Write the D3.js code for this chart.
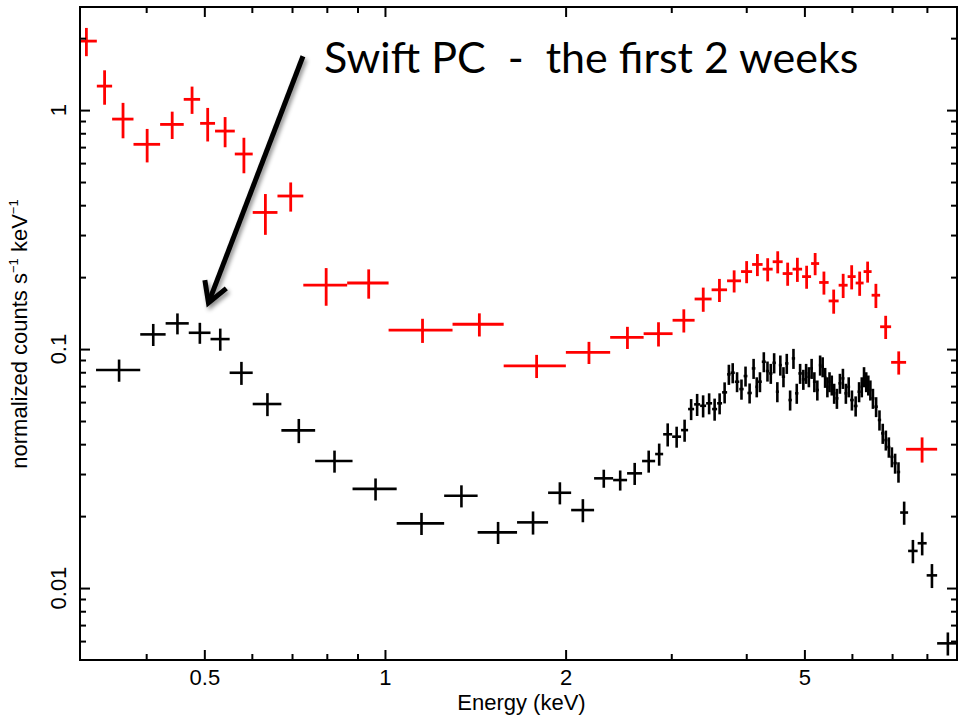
<!DOCTYPE html>
<html><head><meta charset="utf-8">
<script src="https://cdn.jsdelivr.net/npm/d3@7"></script>
<style>body{margin:0;background:#fff} svg{display:block}</style>
</head><body><svg id="c" width="960" height="720"></svg>
<script>
// ---- tick definitions ----
const xTickMajor = [0.5, 1, 2, 5];
const xTickLabels = ["0.5", "1", "2", "5"];
const xTickMinor = [0.4, 0.6, 0.7, 0.8, 0.9, 3, 4, 6, 7, 8];
const yTickMajor = [0.01, 0.1, 1];
const yTickLabels = ["0.01", "0.1", "1"];
const yTickMinor = [0.006, 0.007, 0.008, 0.009, 0.02, 0.03, 0.04, 0.05, 0.06, 0.07, 0.08, 0.09,
                    0.2, 0.3, 0.4, 0.5, 0.6, 0.7, 0.8, 0.9, 2];

// ---- red spectrum (bin edges in keV, rate, 1-sigma error) ----
const redEdges = [0.305, 0.331, 0.351, 0.381, 0.422, 0.462, 0.492, 0.521, 0.562, 0.602, 0.662,
  0.731, 0.865, 1.014, 1.296, 1.577, 2.002, 2.373, 2.698, 3.015, 3.281, 3.502, 3.716, 3.921,
  4.091, 4.259, 4.427, 4.600, 4.778, 4.956, 5.130, 5.291, 5.487, 5.702, 5.902, 6.087, 6.275,
  6.471, 6.686, 6.974, 7.387, 8.321];
const redRate = [1.944, 1.260, 0.917, 0.719, 0.871, 1.109, 0.880, 0.817, 0.655, 0.373, 0.437,
  0.185, 0.189, 0.120, 0.127, 0.0851, 0.0969, 0.112, 0.116, 0.132, 0.162, 0.177, 0.193, 0.211,
  0.226, 0.216, 0.232, 0.207, 0.216, 0.201, 0.228, 0.190, 0.159, 0.185, 0.201, 0.189, 0.211,
  0.168, 0.124, 0.088, 0.0381];
const redErr = [0.263, 0.207, 0.155, 0.115, 0.114, 0.145, 0.141, 0.118, 0.111, 0.0724, 0.061,
  0.0332, 0.0265, 0.0139, 0.0141, 0.00945, 0.0103, 0.0119, 0.0135, 0.0147, 0.0188, 0.0196,
  0.0205, 0.0224, 0.024, 0.024, 0.0246, 0.023, 0.025, 0.0222, 0.0243, 0.021, 0.0184, 0.0215,
  0.0233, 0.022, 0.0213, 0.0195, 0.0138, 0.0098, 0.0046];

// ---- black spectrum ----
const blackEdges = [0.330, 0.391, 0.431, 0.471, 0.512, 0.551, 0.602, 0.672, 0.765, 0.883,
  1.046, 1.255, 1.427, 1.660, 1.870, 2.043, 2.231, 2.400, 2.532, 2.682,
  2.820, 2.908, 3.010, 3.115, 3.200, 3.275, 3.351, 3.429, 3.509, 3.577,
  3.646, 3.717, 3.767, 3.828, 3.895, 3.960, 4.018, 4.086, 4.143, 4.186,
  4.246, 4.312, 4.367, 4.423, 4.481, 4.533, 4.585, 4.643, 4.703, 4.764,
  4.825, 4.886, 4.951, 5.008, 5.058, 5.115, 5.166, 5.224, 5.285, 5.337,
  5.389, 5.439, 5.483, 5.529, 5.578, 5.632, 5.697, 5.763, 5.830, 5.895,
  5.959, 6.042, 6.131, 6.204, 6.259, 6.312, 6.366, 6.414, 6.467, 6.541,
  6.627, 6.712, 6.795, 6.874, 6.953, 7.036, 7.128, 7.220, 7.444, 7.721,
  7.993, 8.321, 9.020];
const blackRate = [0.0817, 0.1152, 0.1281, 0.1170, 0.1101, 0.0796, 0.0589, 0.0457, 0.0340, 0.0260,
  0.01865, 0.02433, 0.0171, 0.01883, 0.02505, 0.0212, 0.02878, 0.02831, 0.0302, 0.0340,
  0.03637, 0.0440, 0.0430, 0.0458, 0.0561, 0.0587, 0.0579, 0.0593, 0.0561, 0.0593, 0.0659,
  0.0784, 0.0796, 0.0730, 0.0680, 0.0771, 0.0655, 0.0830, 0.0695, 0.0730, 0.0885,
  0.0809, 0.0791, 0.0876, 0.0663, 0.0857, 0.0766, 0.0871, 0.0612, 0.0914, 0.0653,
  0.0791, 0.0747, 0.0791, 0.0766, 0.0830, 0.0730, 0.0674, 0.0857, 0.0843, 0.0761,
  0.0695, 0.0730, 0.0707, 0.0653, 0.0622, 0.0719, 0.0754, 0.0653, 0.0695, 0.0612,
  0.0578, 0.0663, 0.0695, 0.0766, 0.0730, 0.0707, 0.0674, 0.0622, 0.0574, 0.0505,
  0.0444, 0.0416, 0.0389, 0.0354, 0.0333, 0.0306, 0.0207, 0.0143, 0.0154, 0.0113, 0.00587];
const blackErr = [0.0087, 0.0122, 0.0129, 0.0118, 0.0117, 0.0088, 0.0065, 0.0053, 0.0036, 0.00275,
  0.00198, 0.00258, 0.00181, 0.00209, 0.00266, 0.00235, 0.0025, 0.00273, 0.0032, 0.0036,
  0.00386, 0.00488, 0.00434, 0.00486, 0.00567, 0.00622, 0.00614, 0.00599, 0.00595, 0.00599, 0.00666,
  0.0076, 0.0077, 0.0070, 0.0066, 0.0074, 0.0063, 0.0080, 0.0067, 0.0070, 0.0085,
  0.0078, 0.0076, 0.0085, 0.0064, 0.0083, 0.0074, 0.0084, 0.0059, 0.0088, 0.0063,
  0.0076, 0.0072, 0.0076, 0.0074, 0.0080, 0.0070, 0.0065, 0.0083, 0.0081, 0.0073,
  0.0067, 0.0070, 0.0068, 0.0063, 0.0060, 0.0069, 0.0073, 0.0063, 0.0067, 0.0059,
  0.0056, 0.0064, 0.0067, 0.0074, 0.0070, 0.0068, 0.0065, 0.0060, 0.0055, 0.0049,
  0.0043, 0.0040, 0.0038, 0.0034, 0.0032, 0.0030, 0.0023, 0.0016, 0.0017, 0.0013, 0.00065];

// ---- annotation (in data units) ----
const titleText = "Swift PC  -  the first 2 weeks";
const arrowTail = [0.730, 1.68];
const arrowTip = [0.508, 0.156];

// ---- layout ----
const L = 80, R = 957, T = 7, B = 660;
const x = d3.scaleLog().domain([0.3103, 8.98]).range([L, R]);
const y = d3.scaleLog().domain([0.005, 2.70]).range([B, T]);
const FONT = "Liberation Sans, Arial, Helvetica, sans-serif";

const svg = d3.select("#c");
const defs = svg.append("defs");
defs.append("clipPath").attr("id", "clip").append("rect")
  .attr("x", L).attr("y", T).attr("width", R - L).attr("height", B - T);
const f = defs.append("filter").attr("id", "shadow").attr("x", "-20%").attr("y", "-20%")
  .attr("width", "140%").attr("height", "140%");
f.append("feDropShadow").attr("dx", 2).attr("dy", 3).attr("stdDeviation", 2)
  .attr("flood-color", "#000").attr("flood-opacity", 0.45);

function bins(edges, rate, err) {
  return rate.map((v, i) => ({lo: edges[i], hi: edges[i + 1], v, e: err[i]}));
}

function drawSeries(data, color, width) {
  const g = svg.append("g").attr("clip-path", "url(#clip)")
    .attr("stroke", color).attr("stroke-width", width).attr("fill", "none");
  g.selectAll("line.h").data(data).join("line").attr("class", "h")
    .attr("x1", d => x(d.lo)).attr("x2", d => x(d.hi))
    .attr("y1", d => y(d.v)).attr("y2", d => y(d.v));
  g.selectAll("line.v").data(data).join("line").attr("class", "v")
    .attr("x1", d => x((d.lo + d.hi) / 2)).attr("x2", d => x((d.lo + d.hi) / 2))
    .attr("y1", d => y(d.v - d.e)).attr("y2", d => y(d.v + d.e));
}

drawSeries(bins(blackEdges, blackRate, blackErr), "#000", 2.6);
drawSeries(bins(redEdges, redRate, redErr), "#ff0000", 2.8);

// ---- axes (inward ticks on all four sides) ----
function styleAxis(g) {
  g.select(".domain").remove();
  g.selectAll(".tick line").attr("stroke", "#000").attr("stroke-width", 2);
}
const fmtNone = () => "";
svg.append("g").attr("transform", `translate(0,${B})`)
  .call(d3.axisBottom(x).tickValues(xTickMajor).tickSize(-10).tickPadding(9)
    .tickFormat((d, i) => xTickLabels[i]))
  .call(styleAxis)
  .call(g => g.selectAll("text").attr("font-family", FONT)
    .attr("font-size", 22).attr("fill", "#000"));
svg.append("g").attr("transform", `translate(0,${B})`)
  .call(d3.axisBottom(x).tickValues(xTickMinor).tickSize(-6).tickFormat(fmtNone)).call(styleAxis);
svg.append("g").attr("transform", `translate(0,${T})`)
  .call(d3.axisTop(x).tickValues(xTickMajor).tickSize(-10).tickFormat(fmtNone)).call(styleAxis);
svg.append("g").attr("transform", `translate(0,${T})`)
  .call(d3.axisTop(x).tickValues(xTickMinor).tickSize(-6).tickFormat(fmtNone)).call(styleAxis);
svg.append("g").attr("transform", `translate(${L},0)`)
  .call(d3.axisLeft(y).tickValues(yTickMajor).tickSize(-10).tickFormat(fmtNone)).call(styleAxis);
svg.append("g").attr("transform", `translate(${L},0)`)
  .call(d3.axisLeft(y).tickValues(yTickMinor).tickSize(-6).tickFormat(fmtNone)).call(styleAxis);
svg.append("g").attr("transform", `translate(${R},0)`)
  .call(d3.axisRight(y).tickValues(yTickMajor).tickSize(-10).tickFormat(fmtNone)).call(styleAxis);
svg.append("g").attr("transform", `translate(${R},0)`)
  .call(d3.axisRight(y).tickValues(yTickMinor).tickSize(-6).tickFormat(fmtNone)).call(styleAxis);

// y tick labels (rotated)
svg.append("g").selectAll("text").data(yTickMajor).join("text")
  .attr("transform", d => `translate(66,${y(d)}) rotate(-90)`)
  .attr("text-anchor", "middle")
  .attr("font-family", FONT).attr("font-size", 22)
  .text((d, i) => yTickLabels[i]);

// frame
svg.append("rect").attr("x", L).attr("y", T).attr("width", R - L).attr("height", B - T)
  .attr("fill", "none").attr("stroke", "#000").attr("stroke-width", 2);

// axis titles
svg.append("text").attr("x", (L + R) / 2 + 3).attr("y", 710).attr("text-anchor", "middle")
  .attr("font-family", FONT).attr("font-size", 22)
  .text("Energy (keV)");
const yl = svg.append("text").attr("transform", "translate(27,334) rotate(-90)")
  .attr("text-anchor", "middle")
  .attr("font-family", FONT).attr("font-size", 22);
yl.append("tspan").text("normalized counts s");
yl.append("tspan").attr("dy", -9).attr("font-size", 13).text("\u22121");
yl.append("tspan").attr("dy", 9).text(" keV");
yl.append("tspan").attr("dy", -9).attr("font-size", 13).text("\u22121");

// annotation: title text and arrow
svg.append("text").attr("x", 324).attr("y", 73)
  .attr("font-family", "Lato, 'Open Sans', sans-serif").attr("font-size", 43)
  .style("white-space", "pre").text(titleText);

const tx = x(arrowTail[0]), ty = y(arrowTail[1]);
const hx = x(arrowTip[0]), hy = y(arrowTip[1]);
const ang = Math.atan2(ty - hy, tx - hx);
const armLen = 23, spread = Math.PI / 6;
const a1 = [hx + armLen * Math.cos(ang + spread), hy + armLen * Math.sin(ang + spread)];
const a2 = [hx + armLen * Math.cos(ang - spread), hy + armLen * Math.sin(ang - spread)];
const ag = svg.append("g").attr("filter", "url(#shadow)")
  .attr("stroke", "#000").attr("stroke-width", 5).attr("fill", "none")
  .attr("stroke-linecap", "butt");
ag.append("line").attr("x1", tx).attr("y1", ty).attr("x2", hx).attr("y2", hy);
ag.append("path").attr("stroke-linejoin", "miter")
  .attr("d", `M${a1[0]},${a1[1]}L${hx},${hy}L${a2[0]},${a2[1]}`);
</script></body></html>
